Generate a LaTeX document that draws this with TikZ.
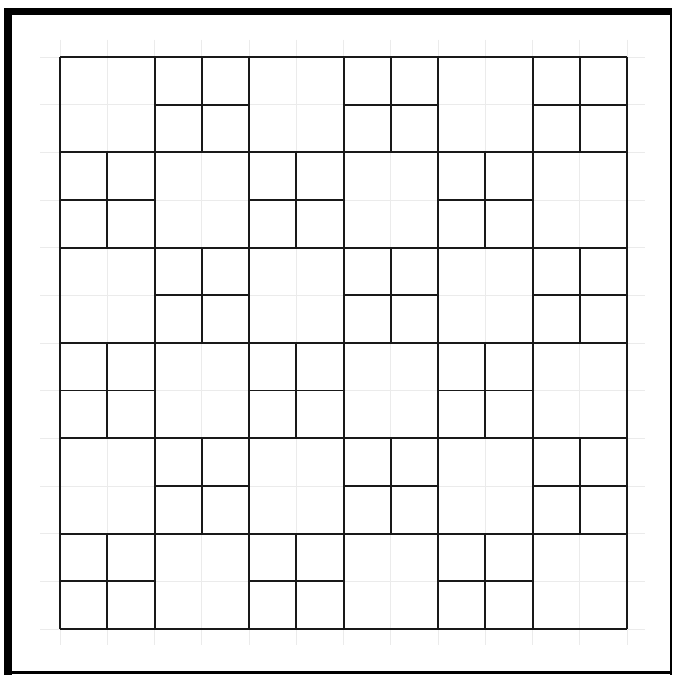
\documentclass[tikz,border=0pt]{standalone}
\begin{document}
\begin{tikzpicture}[x=1pt,y=-1pt,
  bigline/.style={black!90,line width=2pt},
  subline/.style={black!90,line width=1.8pt},
  paper/.style={black!8,line width=0.6pt},
  frameband/.style={fill=black,draw=none}]
\useasboundingbox (0,0) rectangle (673,677);
\fill[white] (0,0) rectangle (673,677);
% graph paper
\foreach \k in {0,...,12}{
  \draw[paper] ({60+47.25*\k},40) -- ({60+47.25*\k},645);
  \draw[paper] (40,{57+47.67*\k}) -- (645,{57+47.67*\k});
}
% frame
\fill[frameband] (4,8) rectangle (12,675);
\fill[frameband] (4,8) rectangle (672,15);
\fill[frameband] (669.5,8) rectangle (672,675);
\fill[frameband] (4,671) rectangle (672,674);
% crosses in checkerboard cells
\foreach \r in {1,...,6}{
  \foreach \c in {1,...,6}{
    \pgfmathtruncatemacro{\parity}{mod(\r+\c,2)}
    \ifnum\parity=1
      \pgfmathsetmacro{\xl}{60+94.5*(\c-1)}
      \pgfmathsetmacro{\yt}{57+95.3*(\r-1)}
      \draw[subline] ({\xl+47.25},\yt) -- ({\xl+47.25},{\yt+95.3});
      \draw[subline] (\xl,{\yt+47.65}) -- ({\xl+94.5},{\yt+47.65});
    \fi
  }
}
% main grid
\foreach \i in {0,...,6}{
  \draw[bigline] ({60+94.5*\i},57) -- ({60+94.5*\i},629);
  \draw[bigline] (60,{57+95.3*\i}) -- (627,{57+95.3*\i});
}
\end{tikzpicture}
\end{document}
